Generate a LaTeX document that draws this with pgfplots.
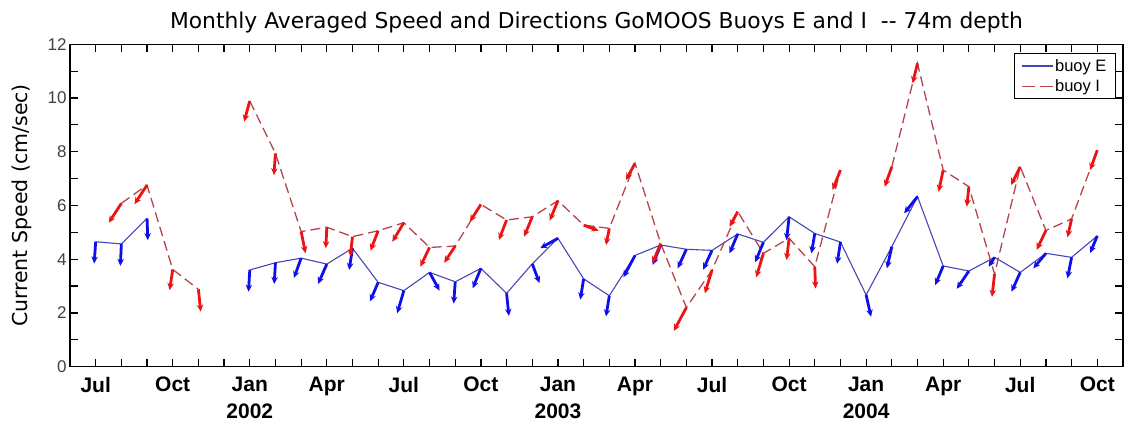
\documentclass[border=0pt]{standalone}
\usepackage{fontspec}
\setmainfont{Liberation Sans}
\newfontfamily\dejavu{DejaVu Sans}
\usepackage{pgfplots}
\pgfplotsset{compat=1.18}
\usepackage{pgfplotstable}
\usetikzlibrary{arrows.meta}
\definecolor{lineE}{RGB}{70,70,185}
\definecolor{arrE}{RGB}{15,15,235}
\definecolor{lineI}{RGB}{180,70,75}
\definecolor{arrI}{RGB}{235,20,20}

\pgfplotstableread{
x y u v
0 4.65 -0.06 -0.81
1 4.57 -0.04 -0.82
2 5.52 0.03 -0.81
3 nan 0 0
4 nan 0 0
5 nan 0 0
6 3.60 -0.05 -0.81
7 3.87 -0.05 -0.79
8 4.04 -0.28 -0.74
9 3.82 -0.34 -0.74
10 4.41 -0.13 -0.81
11 3.14 -0.32 -0.71
12 2.83 -0.26 -0.84
13 3.51 0.39 -0.68
14 3.16 -0.06 -0.81
15 3.66 -0.32 -0.74
16 2.73 0.09 -0.84
17 3.83 0.28 -0.72
18 4.78 -0.69 -0.37
19 3.27 -0.13 -0.77
20 2.64 -0.13 -0.77
21 4.14 -0.45 -0.81
22 4.53 -0.31 -0.74
23 4.37 -0.34 -0.71
24 4.33 -0.35 -0.72
25 4.94 -0.32 -0.72
26 4.63 -0.32 -0.74
27 5.58 -0.10 -0.87
28 4.96 -0.13 -0.74
29 4.64 -0.13 -0.81
30 2.67 0.19 -0.81
31 4.47 -0.19 -0.81
32 6.33 -0.52 -0.62
33 3.75 -0.31 -0.71
34 3.56 -0.47 -0.66
35 4.07 -0.23 -0.35
36 3.51 -0.34 -0.72
37 4.22 -0.49 -0.56
38 4.07 -0.16 -0.78
39 4.87 -0.28 -0.64
}\buoyE

\pgfplotstableread{
x y u v
0 nan 0 0
1 6.08 -0.49 -0.72
2 6.76 -0.49 -0.71
3 3.62 -0.12 -0.77
4 2.88 0.09 -0.83
5 nan 0 0
6 9.89 -0.22 -0.77
7 7.94 -0.06 -0.81
8 5.03 0.17 -0.81
9 5.19 -0.04 -0.78
10 4.84 -0.09 -0.74
11 5.06 -0.30 -0.74
12 5.36 -0.45 -0.71
13 4.44 -0.36 -0.72
14 4.49 -0.43 -0.62
15 6.04 -0.43 -0.64
16 5.46 -0.30 -0.74
17 5.58 -0.32 -0.74
18 6.18 -0.32 -0.74
19 5.27 0.58 -0.21
20 5.15 -0.13 -0.62
21 7.57 -0.35 -0.62
22 4.59 -0.32 -0.74
23 2.20 -0.49 -0.87
24 3.60 -0.28 -0.87
25 5.77 -0.32 -0.56
26 4.22 -0.28 -0.89
27 4.78 -0.10 -0.81
28 3.72 0.03 -0.81
29 7.32 -0.31 -0.74
30 nan 0 0
31 7.44 -0.28 -0.74
32 11.29 -0.19 -0.74
33 7.32 -0.18 -0.81
34 6.70 -0.08 -0.74
35 3.45 -0.10 -0.85
36 7.44 -0.36 -0.68
37 5.07 -0.36 -0.72
38 5.50 -0.16 -0.68
39 8.06 -0.28 -0.74
}\buoyI

\begin{document}
\begin{tikzpicture}
\begin{axis}[
  scale only axis, width=1053pt, height=322.4pt,
  xmin=-1, xmax=40, ymin=0, ymax=12,
  xtick={0,3,...,39},
  xticklabels={Jul,Oct,{Jan\\2002},Apr,Jul,Oct,{Jan\\2003},Apr,Jul,Oct,{Jan\\2004},Apr,Jul,Oct},
  minor xtick={-1,...,40},
  ytick={0,2,...,12}, minor ytick={1,3,...,11},
  tick align=inside,
  major tick length=8pt, minor tick length=8pt,
  every tick/.style={black, line width=1.2pt},
  minor tick style={black, line width=1.2pt},
  axis line style={line width=1.5pt},
  xticklabel style={font=\fontsize{21}{27}\selectfont\bfseries, align=center, yshift=-7pt},
  yticklabel style={font=\fontsize{17}{18}\selectfont, color=black!75},
  /pgf/number format/assume math mode=true,
  ylabel={Current Speed (cm/sec)},
  ylabel style={font=\dejavu\fontsize{20.5}{24}\selectfont, at={(axis description cs:-0.0456,0.5)}, anchor=center},
  title={Monthly Averaged Speed and Directions GoMOOS Buoys E and I\ \ {-}{-} 74m depth},
  title style={font=\dejavu\fontsize{21.8}{24}\selectfont, at={(axis description cs:0.5,1)}, anchor=base, yshift=10pt},
  legend style={at={(axis description cs:1,1)}, anchor=north east, xshift=-7pt, yshift=-9pt,
    font=\fontsize{16.5}{20}\selectfont, draw=black, line width=1pt,
    row sep=3pt, inner xsep=7pt, inner ysep=3.5pt,
    /tikz/every even column/.append style={column sep=8pt}},
  legend cell align=left,
  legend image code/.code={\draw[#1, line width=1.1pt] (0pt,0pt) -- (31pt,0pt);},
  unbounded coords=jump,
]
\addplot[lineE, line width=1.1pt] table[x=x,y=y] {\buoyE};
\addlegendentry{buoy E}
\addplot[lineI, line width=1.3pt, dash pattern=on 10pt off 5pt,
  legend image post style={dash pattern=on 13pt off 5pt}] table[x=x,y=y] {\buoyI};
\addlegendentry{buoy I}
\addplot[arrE, line width=2.8pt, unbounded coords=discard, forget plot,
  quiver={u=\thisrow{u}, v=\thisrow{v}}, -{Stealth[length=7pt,width=6.5pt]}]
  table[x=x,y=y] {\buoyE};
\addplot[arrI, line width=2.8pt, unbounded coords=discard, forget plot,
  quiver={u=\thisrow{u}, v=\thisrow{v}}, -{Stealth[length=7pt,width=6.5pt]}]
  table[x=x,y=y] {\buoyI};
\end{axis}
\pgfresetboundingbox
\path[use as bounding box] (-70pt,-55.3pt) rectangle (1058pt,366.7pt);
\end{tikzpicture}
\end{document}
